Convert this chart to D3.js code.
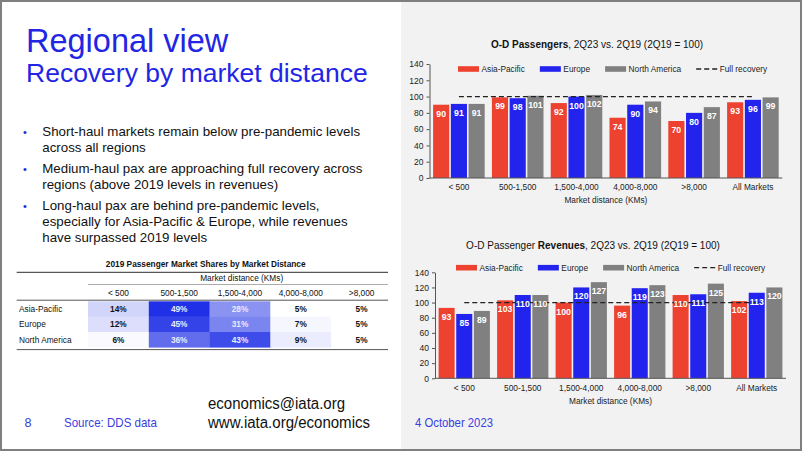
<!DOCTYPE html>
<html><head><meta charset="utf-8">
<script src="https://cdn.jsdelivr.net/npm/d3@7"></script>
<style>
html,body{margin:0;padding:0;background:#fff;}
svg{display:block;font-family:"Liberation Sans",Arial,sans-serif;}
</style></head>
<body><svg id="c" width="802" height="451"></svg>
<script>
// ---------- data ----------
const categories = ["< 500","500-1,500","1,500-4,000","4,000-8,000",">8,000","All Markets"];
const regions = ["Asia-Pacific","Europe","North America"];
const paxAsia   = [90, 99, 92, 74, 70, 93];
const paxEurope = [91, 98,100, 90, 80, 96];
const paxNA     = [91,101,102, 94, 87, 99];
const revAsia   = [93,103,100, 96,110,102];
const revEurope = [85,110,120,119,111,113];
const revNA     = [89,110,127,123,125,120];
const yTicks = [0,20,40,60,80,100,120,140];
const fullRecovery = 100;
const distCols = ["< 500","500-1,500","1,500-4,000","4,000-8,000",">8,000"];
const tableRows = ["Asia-Pacific","Europe","North America"];
const shareAsia   = [14,49,28,5,5];
const shareEurope = [12,45,31,7,5];
const shareNA     = [6,36,43,9,5];
const bullets = [
  ["Short-haul markets remain below pre-pandemic levels","across all regions"],
  ["Medium-haul pax are approaching full recovery across","regions (above 2019 levels in revenues)"],
  ["Long-haul pax are behind pre-pandemic levels,","especially for Asia-Pacific & Europe, while revenues","have surpassed 2019 levels"]
];

const colors = {"Asia-Pacific":"#ee4230","Europe":"#2323ee","North America":"#808080"};
const blue = "#2226e4";
const svg = d3.select("#c");

// background & panel
svg.append("rect").attr("width",802).attr("height",451).attr("fill","#fff");
svg.append("rect").attr("x",401).attr("y",0).attr("width",401).attr("height",451).attr("fill","#f2f2f2");

// ---------- left text ----------
svg.append("text").attr("x",26).attr("y",52).attr("fill",blue).attr("font-size",32.5).text("Regional view");
svg.append("text").attr("x",26).attr("y",82).attr("fill",blue).attr("font-size",26.5).text("Recovery by market distance");

let by = 135.5;
bullets.forEach(lines=>{
  svg.append("text").attr("x",23).attr("y",by).attr("fill",blue).attr("font-size",11).text("•");
  lines.forEach((l,i)=>{
    svg.append("text").attr("x",42.3).attr("y",by+i*16.3).attr("fill","#111").attr("font-size",13.3).text(l);
  });
  by += lines.length*16.3 + 4.5;
});

// ---------- table ----------
const tbl = svg.append("g").attr("font-size",8.3).attr("fill","#111");
tbl.append("text").attr("x",205.7).attr("y",266.5).attr("text-anchor","middle").attr("font-weight","bold").text("2019 Passenger Market Shares by Market Distance");
const tLine=(x1,x2,y,w,c)=>tbl.append("line").attr("x1",x1).attr("x2",x2).attr("y1",y).attr("y2",y).attr("stroke",c).attr("stroke-width",w);
tLine(16.7,388,272.3,1.2,"#555");
tbl.append("text").attr("x",241.7).attr("y",280.8).attr("text-anchor","middle").text("Market distance (KMs)");
tLine(88,388,284.5,0.7,"#888");
const cx = d3.scaleBand().domain(distCols).range([88,392]);
tbl.selectAll("text.hdr").data(distCols).join("text").attr("class","hdr")
  .attr("x",d=>cx(d)+cx.bandwidth()/2).attr("y",295.8).attr("text-anchor","middle").text(d=>d);
tLine(16.7,388,300.2,1,"#555");
const ry = d3.scaleBand().domain(tableRows).range([301.3,347.3]);
const shareColor = d3.scaleLinear().domain([5,49]).range(["#ffffff","#2030e6"]);
const shareData = [shareAsia,shareEurope,shareNA];
tableRows.forEach((r,ri)=>{
  tbl.append("text").attr("x",19).attr("y",ry(r)+ry.bandwidth()/2+3).text(r);
  distCols.forEach((c,ci)=>{
    const v = shareData[ri][ci];
    tbl.append("rect").attr("x",cx(c)).attr("y",ry(r)).attr("width",Math.min(cx.bandwidth(),388-cx(c))+0.3).attr("height",ry.bandwidth()+0.3)
      .attr("fill",shareColor(v));
    tbl.append("text").attr("x",cx(c)+cx.bandwidth()/2).attr("y",ry(r)+ry.bandwidth()/2+3)
      .attr("text-anchor","middle").attr("font-weight","bold").attr("fill",v>=25?"#e8eaff":"#111").text(v+"%");
  });
});
tLine(16.7,388,349.6,1,"#555");

// ---------- charts ----------
function drawChart(cfg){
  const g = svg.append("g");
  const x0 = d3.scaleBand().domain(categories).range([cfg.axisX, cfg.axisX+cfg.band*6]);
  const x1 = d3.scaleBand().domain(regions).range([3.6, cfg.band-3.6]).paddingInner(0.09);
  const y = d3.scaleLinear().domain([0,140]).range([cfg.y0, cfg.y140]);
  // title
  const t = g.append("text").attr("x",cfg.titleX).attr("y",cfg.titleY).attr("text-anchor","middle").attr("font-size",10).attr("fill","#111");
  cfg.title.forEach(p=>t.append("tspan").attr("font-weight",p[1]?"bold":"normal").text(p[0]));
  // bars
  const series = regions.map((r,i)=>({name:r, values:cfg.values[i]}));
  series.forEach(s=>{
    g.selectAll(null).data(s.values).join("rect")
      .attr("x",(d,i)=>x0(categories[i])+x1(s.name)).attr("width",x1.bandwidth())
      .attr("y",d=>y(d)).attr("height",d=>y(0)-y(d)).attr("fill",colors[s.name]);
  });
  // full recovery line
  g.append("line").attr("x1",x0(categories[0])+x0.bandwidth()/2).attr("x2",x0(categories[5])+x0.bandwidth()/2)
    .attr("y1",y(fullRecovery)).attr("y2",y(fullRecovery)).attr("stroke","#222").attr("stroke-width",1.3).attr("stroke-dasharray","5,3");
  // value labels
  series.forEach(s=>{
    g.selectAll(null).data(s.values).join("text")
      .attr("x",(d,i)=>x0(categories[i])+x1(s.name)+x1.bandwidth()/2).attr("y",d=>y(d)+12)
      .attr("text-anchor","middle").attr("font-size",8.7).attr("font-weight","bold").attr("fill","#fff").text(d=>d);
  });
  // axes
  const ya = g.append("g").attr("transform",`translate(${cfg.axisX},0)`)
    .call(d3.axisLeft(y).tickValues(yTicks).tickSize(3).tickSizeOuter(0).tickPadding(3));
  ya.selectAll("text").attr("font-size",8.5).attr("fill","#222").attr("font-family","Liberation Sans, Arial, sans-serif");
  ya.selectAll("line,path").attr("stroke","#555");
  g.append("line").attr("x1",cfg.axisX).attr("x2",cfg.axisX+cfg.band*6).attr("y1",y(0)).attr("y2",y(0)).attr("stroke","#555");
  g.selectAll(null).data(categories).join("text")
    .attr("x",d=>x0(d)+x0.bandwidth()/2).attr("y",cfg.xLabY).attr("text-anchor","middle").attr("font-size",8.3).attr("fill","#222").text(d=>d);
  g.append("text").attr("x",cfg.axisX+cfg.band*3).attr("y",cfg.xLabY+13.3).attr("text-anchor","middle").attr("font-size",8.3).attr("fill","#222").text("Market distance (KMs)");
  // legend
  let lx = cfg.legX;
  regions.concat(["Full recovery"]).forEach(name=>{
    if(name==="Full recovery"){
      g.append("line").attr("x1",lx).attr("x2",lx+21).attr("y1",cfg.legY).attr("y2",cfg.legY).attr("stroke","#222").attr("stroke-width",1.3).attr("stroke-dasharray","5,3");
    } else {
      g.append("rect").attr("x",lx).attr("y",cfg.legY-2.8).attr("width",21).attr("height",5.6).attr("fill",colors[name]);
    }
    const tx = g.append("text").attr("x",lx+23.5).attr("y",cfg.legY+3).attr("font-size",8.3).attr("fill","#222").text(name);
    lx += 23.5 + tx.node().getComputedTextLength() + 15;
  });
}

drawChart({axisX:429.5, band:58.8, y0:178, y140:64, titleX:597, titleY:47.5, legX:458, legY:69, xLabY:190,
  title:[["O-D Passengers",true],[", 2Q23 vs. 2Q19 (2Q19 = 100)",false]],
  values:[paxAsia,paxEurope,paxNA]});
drawChart({axisX:435, band:58.5, y0:378.3, y140:272.3, titleX:593, titleY:248.5, legX:456, legY:267.7, xLabY:391,
  title:[["O-D Passenger ",false],["Revenues",true],[", 2Q23 vs. 2Q19 (2Q19 = 100)",false]],
  values:[revAsia,revEurope,revNA]});

// ---------- footer ----------
const ft = (x,y,s,c,len,str)=>svg.append("text").attr("x",x).attr("y",y).attr("font-size",s).attr("fill",c)
  .attr("textLength",len).attr("lengthAdjust","spacingAndGlyphs").text(str);
ft(24.5,426.5,13,"#3a3ee0",7,"8");
ft(64,426.5,13,"#3a3ee0",93,"Source: DDS data");
ft(208,409,16,"#111",137,"economics@iata.org");
ft(208,427.5,16,"#111",162,"www.iata.org/economics");
ft(415,426.5,13,"#3a3ee0",78,"4 October 2023");

// border
svg.append("rect").attr("x",1).attr("y",1).attr("width",800).attr("height",449).attr("fill","none").attr("stroke","#7f7f7f").attr("stroke-width",2);
</script></body></html>
